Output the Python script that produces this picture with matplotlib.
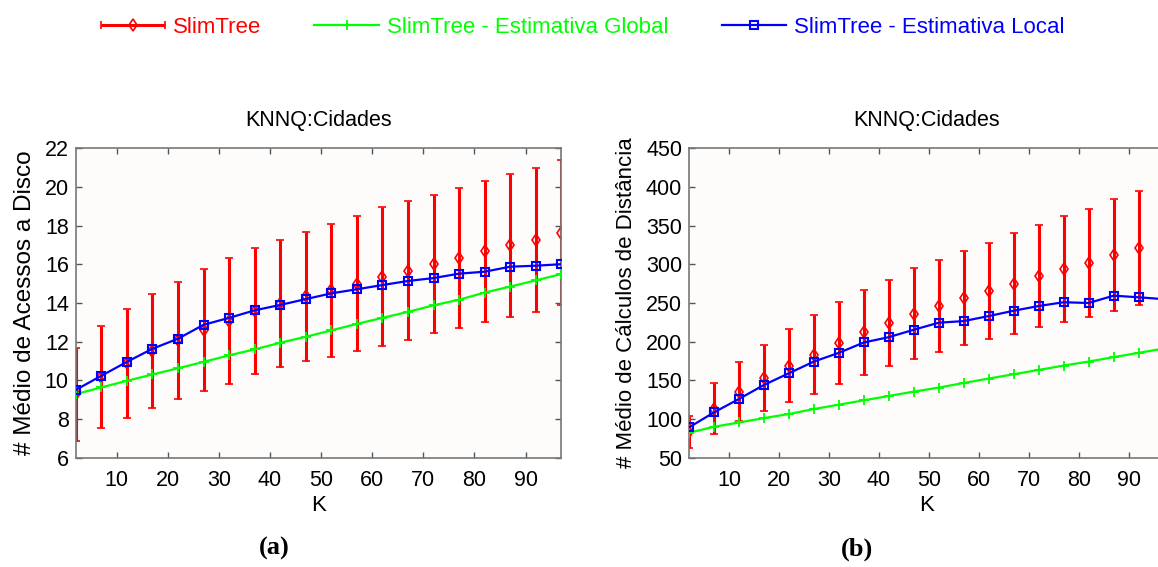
import matplotlib
matplotlib.use("Agg")
import matplotlib.pyplot as plt
from matplotlib.container import ErrorbarContainer
from matplotlib.legend_handler import HandlerErrorbar

plt.rcParams['font.family'] = ['Liberation Sans', 'DejaVu Sans']

# K values (same for both panels)
K = [2, 7, 12, 17, 22, 27, 32, 37, 42, 47, 52, 57, 62, 67, 72, 77, 82, 87, 92, 97]

# (a) disk accesses
disk_slim = [9.28, 10.17, 10.88, 11.5, 12.07, 12.6, 13.08, 13.58, 13.97, 14.35,
             14.65, 14.99, 15.36, 15.68, 16.0, 16.33, 16.67, 16.98, 17.27, 17.64]
disk_slim_err = [2.4, 2.63, 2.83, 2.95, 3.02, 3.17, 3.25, 3.27, 3.3, 3.35,
                 3.43, 3.49, 3.59, 3.58, 3.57, 3.61, 3.65, 3.7, 3.73, 3.76]
disk_global = [9.28, 9.63, 9.97, 10.3, 10.62, 10.95, 11.29, 11.6, 11.94, 12.25,
               12.58, 12.92, 13.23, 13.54, 13.88, 14.17, 14.54, 14.85, 15.17, 15.5]
disk_local = [9.5, 10.23, 10.95, 11.63, 12.15, 12.87, 13.23, 13.62, 13.9, 14.2,
              14.5, 14.71, 14.93, 15.14, 15.29, 15.52, 15.62, 15.88, 15.93, 16.01]

# (b) distance calculations
dist_slim = [83, 113, 135, 153, 169, 183, 198, 212, 224, 236,
             246, 256, 266, 275, 285, 294, 302, 312, 321, 330]
dist_slim_err = [21, 33, 38, 43, 47, 51, 53, 55, 56, 59,
                 60, 61, 62, 65, 66, 68, 70, 72, 74, 76]
dist_global = [82, 89.8, 95.4, 101, 106.3, 112.8, 118.4, 124, 129.7, 135.3,
               140.5, 146.5, 152.2, 157.8, 163.4, 169, 174.2, 179.9, 185.5, 191]
dist_local = [89, 108.4, 125.8, 143.9, 159.1, 174.2, 185.5, 198.9, 205.8, 215.4,
              224.5, 226.6, 233.1, 240, 246.1, 251, 250, 259.5, 257.4, 255]

labels = ['SlimTree', 'SlimTree - Estimativa Global', 'SlimTree - Estimativa Local']
colors = ['#ff0000', '#00ff00', '#0000ff']
titles = ['KNNQ:Cidades', 'KNNQ:Cidades']
ylabels = ['# Médio de Acessos a Disco', '# Médio de Cálculos de Distância']

fig = plt.figure(figsize=(11.58, 5.67), dpi=100)
axa = fig.add_axes([0.0654, 0.1931, 0.4193, 0.545])
axb = fig.add_axes([0.595, 0.1931, 0.4098, 0.545])


def panel(ax, slim, err, glob, loc, ylim, yticks, title, ylabel, ysize):
    ax.set_facecolor('#fdfcfb')
    eb = ax.errorbar(K, slim, yerr=err, color=colors[0], marker='d', ms=6,
                     mfc='none', mew=1.2, lw=0, elinewidth=2.2, capsize=3,
                     capthick=1.5, zorder=2)
    ax.plot(K, glob, color=colors[1], lw=1.6, marker='+', ms=7, mew=1.3, zorder=3)
    ax.plot(K, loc, color=colors[2], lw=1.6, marker='s', ms=6, mfc='none',
            mew=1.5, zorder=4)
    ax.set_xlim(2, 97)
    ax.set_ylim(*ylim)
    ax.set_xticks(range(10, 100, 10))
    ax.set_yticks(yticks)
    ax.tick_params(direction='in', length=4, width=1, color='#555555',
                   top=True, right=True, labelsize=15.5, pad=5)
    ax.tick_params(axis='x', pad=9)
    for s in ax.spines.values():
        s.set_color('#777777')
        s.set_linewidth(1.2)
    ax.set_title(title, fontsize=15.5, pad=16)
    ax.set_xlabel('K', fontsize=16, labelpad=3)
    ax.set_ylabel(ylabel, fontsize=ysize, labelpad=6)
    return eb


eb = panel(axa, disk_slim, disk_slim_err, disk_global, disk_local,
           (6, 22), range(6, 23, 2), titles[0], ylabels[0], 17.5)
panel(axb, dist_slim, dist_slim_err, dist_global, dist_local,
      (50, 450), range(50, 451, 50), titles[1], ylabels[1], 16)

# legend: red entry drawn as horizontal error bar
red_h = ErrorbarContainer(eb.lines, has_xerr=True, has_yerr=False, label=labels[0])
green_h, blue_h = axa.lines[-2], axa.lines[-1]
leg = fig.legend([red_h, green_h, blue_h], labels, loc='center',
                 bbox_to_anchor=(0.503, 0.952), ncol=3, frameon=False,
                 fontsize=16, handlelength=2.9, handletextpad=0.35,
                 columnspacing=2.4, numpoints=1,
                 handler_map={red_h: HandlerErrorbar(xerr_size=1.45)})
for t, c in zip(leg.get_texts(), colors):
    t.set_color(c)

fig.text(0.237, 0.032, '(a)', ha='center', va='center', fontsize=19,
         fontweight='bold', family='Liberation Serif')
fig.text(0.74, 0.032, '(b)', ha='center', va='center', fontsize=19,
         fontweight='bold', family='Liberation Serif')

fig.savefig('out.png', dpi=100, facecolor='white')
